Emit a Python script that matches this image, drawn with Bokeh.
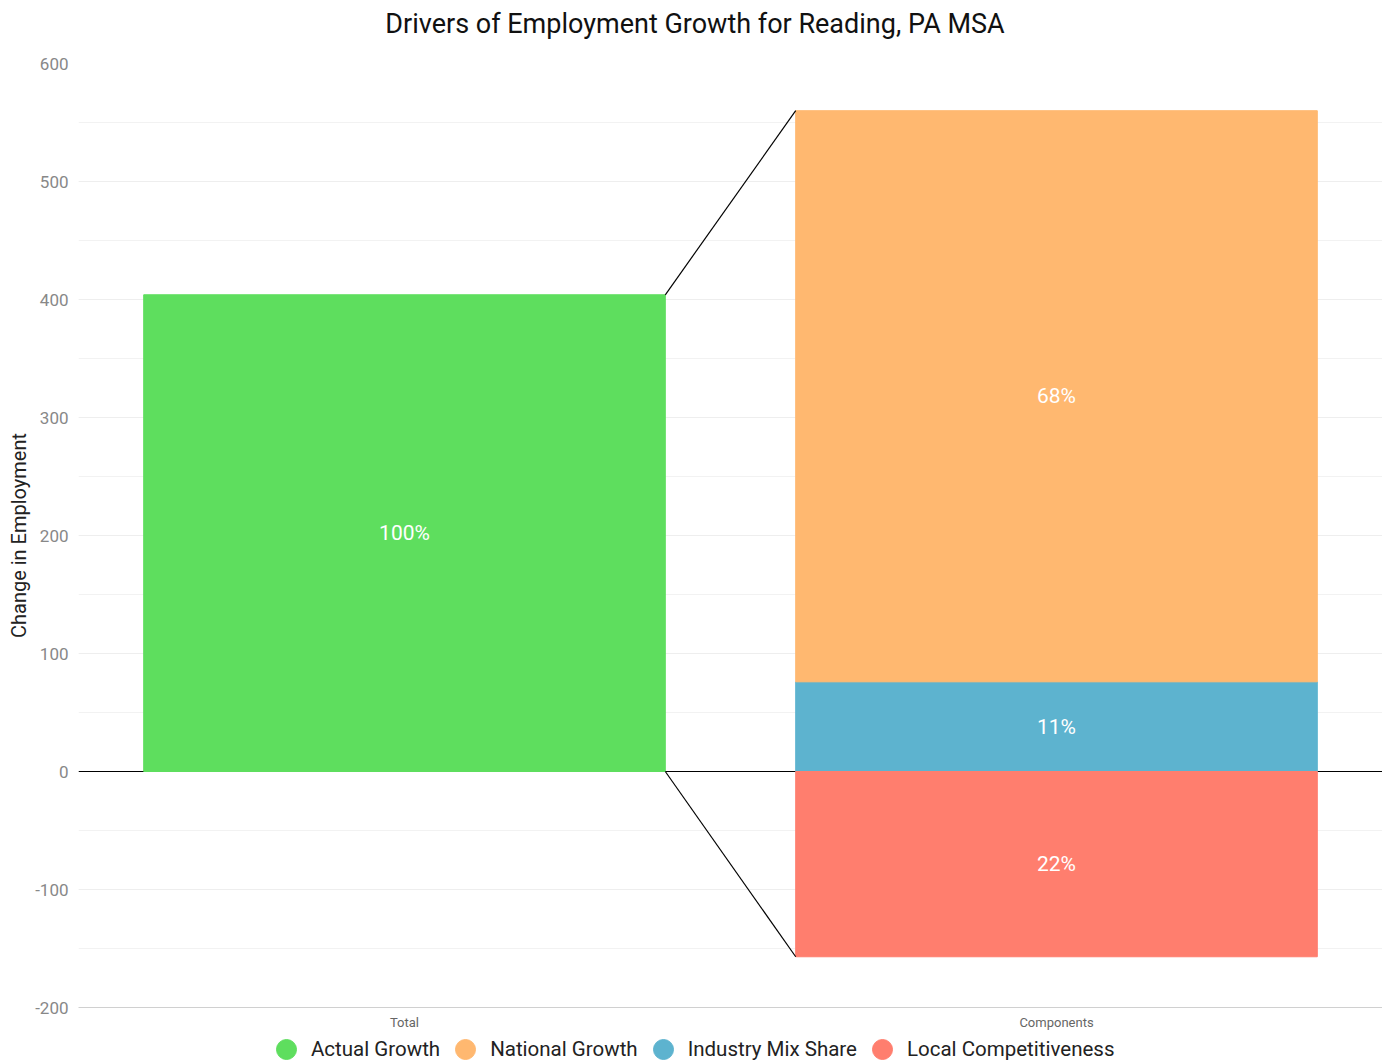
from bokeh.plotting import figure
from bokeh.layouts import column
from bokeh.models import (FactorRange, Range1d, SingleIntervalTicker, Span, Legend,
                          LegendItem, ColumnDataSource, Div)
from bokeh.core.properties import value
from bokeh.embed import file_html
from bokeh.resources import INLINE

# ---- data ----
title_text = "Drivers of Employment Growth for Reading, PA MSA"
categories = ["Total", "Components"]
actual_growth = 404
national_growth = 484
industry_mix = 76
local_comp = -157
series_names = ["Actual Growth", "National Growth", "Industry Mix Share", "Local Competitiveness"]
colors = ["#5EDE5E", "#FFB870", "#5DB3CF", "#FF7E6E"]
y_ticks_interval = 100

FONT = "Roboto"
BAR_W = 0.8
half = BAR_W / 2

# title strip
title_div = Div(text=title_text, width=1382, height=48, margin=0,
                styles={"font-family": "Roboto", "font-size": "27px", "color": "#111111",
                        "text-align": "center", "line-height": "48px", "padding-left": "8px",
                        "box-sizing": "border-box", "white-space": "nowrap"})

p = figure(width=1382, height=984, x_range=FactorRange(*categories),
           y_range=Range1d(-200, 600), output_backend="svg", toolbar_location=None,
           min_border_left=78, min_border_right=0, min_border_top=15, min_border_bottom=23)
p.outline_line_color = None
p.background_fill_color = "white"
p.border_fill_color = "white"

# zero line under bars
p.add_layout(Span(location=0, dimension="width", line_color="black", line_width=1, level="underlay"))

# bars
comp_pos_total = industry_mix + national_growth
p.vbar(x=["Total"], bottom=[0], top=[actual_growth], width=BAR_W, color=colors[0])
p.vbar(x=["Components"], bottom=[0], top=[industry_mix], width=BAR_W, color=colors[2])
p.vbar(x=["Components"], bottom=[industry_mix], top=[comp_pos_total], width=BAR_W, color=colors[1])
p.vbar(x=["Components"], bottom=[0], top=[local_comp], width=BAR_W, color=colors[3])

# connector lines
p.line(x=[("Total", half), ("Components", -half)], y=[actual_growth, comp_pos_total],
       line_color="black", line_width=1.2)
p.line(x=[("Total", half), ("Components", -half)], y=[0, local_comp],
       line_color="black", line_width=1.2)

# percent labels
abs_total = abs(national_growth) + abs(industry_mix) + abs(local_comp)
pcts = [100, round(100 * abs(national_growth) / abs_total),
        round(100 * abs(industry_mix) / abs_total), round(100 * abs(local_comp) / abs_total)]
lab_src = ColumnDataSource(dict(
    x=["Total", "Components", "Components", "Components"],
    y=[actual_growth / 2, industry_mix + national_growth / 2, industry_mix / 2, local_comp / 2],
    t=[f"{v}%" for v in pcts]))
p.text(x="x", y="y", text="t", source=lab_src, text_color="white", text_font=value(FONT),
       text_font_size="21px", text_align="center", text_baseline="middle")

# axes
p.yaxis.ticker = SingleIntervalTicker(interval=y_ticks_interval, num_minor_ticks=2)
p.yaxis.major_label_overrides = {-100: "-100", -200: "-200"}
p.yaxis.axis_line_color = None
p.yaxis.major_tick_line_color = None
p.yaxis.minor_tick_line_color = None
p.yaxis.major_tick_out = 0
p.yaxis.major_tick_in = 0
p.yaxis.minor_tick_out = 0
p.yaxis.major_label_text_font = FONT
p.yaxis.major_label_text_font_size = "17px"
p.yaxis.major_label_text_color = "#888888"
p.yaxis.major_label_standoff = 10
p.yaxis.axis_label = "Change in Employment"
p.yaxis.axis_label_text_font = FONT
p.yaxis.axis_label_text_font_size = "20px"
p.yaxis.axis_label_text_font_style = "normal"
p.yaxis.axis_label_text_color = "#222222"
p.yaxis.axis_label_standoff = 1

p.xaxis.axis_line_color = "#d0d0d0"
p.xaxis.major_tick_line_color = None
p.xaxis.minor_tick_line_color = None
p.xaxis.major_tick_out = 0
p.xaxis.major_tick_in = 0
p.xaxis.major_label_text_font = FONT
p.xaxis.major_label_text_font_size = "13px"
p.xaxis.major_label_text_color = "#666666"
p.xaxis.major_label_standoff = 7

p.xgrid.grid_line_color = None
p.ygrid.grid_line_color = "#eeeeee"
p.ygrid.minor_grid_line_color = "#f2f2f2"

# legend strip: a small figure below holding the legend (circle markers)
p2 = figure(width=1382, height=28, x_range=Range1d(0, 1), y_range=Range1d(0, 1),
            x_axis_type=None, y_axis_type=None, output_backend="svg", toolbar_location=None,
            min_border_left=0, min_border_right=0, min_border_top=0, min_border_bottom=0)
p2.outline_line_color = None
p2.grid.visible = False
legend_items = []
for name, c in zip(series_names, colors):
    r = p2.scatter(x=[0.5], y=[float("nan")], marker="circle", size=21, color=c)
    legend_items.append(LegendItem(label=name, renderers=[r]))
legend = Legend(items=legend_items, orientation="horizontal", location=(183, -14),
                label_text_font=FONT, label_text_font_size="20.5px", label_text_color="#222222",
                glyph_width=50, glyph_height=50, spacing=0, padding=0, margin=0,
                label_standoff=0, label_height=22, border_line_color=None, background_fill_alpha=0)
p2.add_layout(legend)

layout = column(title_div, p, p2, spacing=0)
open("out.html", "w").write(file_html(layout, INLINE))
